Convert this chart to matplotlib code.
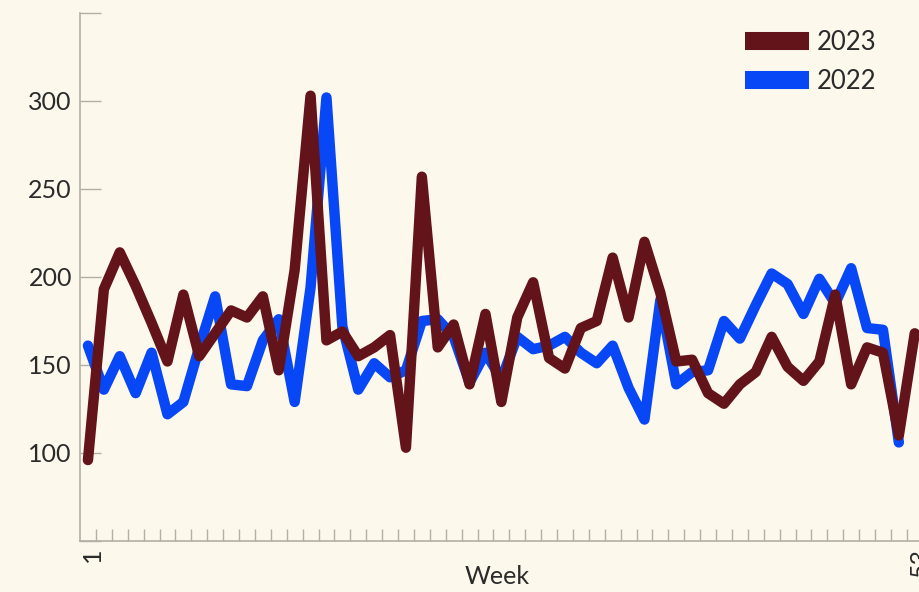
import matplotlib
matplotlib.use("Agg")
import matplotlib.pyplot as plt
import matplotlib.transforms as mtransforms
from matplotlib.lines import Line2D
import numpy as np

# weekly values
weeks_2023 = list(range(1, 54))
values_2023 = [96, 193, 214, 195, 174, 152, 190, 155, 168, 181,
               177, 189, 147, 204, 303, 164, 169, 155, 160, 167,
               103, 257, 160, 173, 139, 179, 129, 177, 197, 154,
               148, 171, 175, 211, 177, 220, 191, 152, 153, 134,
               128, 139, 146, 166, 149, 141, 152, 190, 139, 160,
               157, 110, 168]

weeks_2022 = list(range(1, 53))
values_2022 = [161, 136, 155, 134, 157, 122, 129, 160, 189, 139,
               138, 164, 176, 129, 194, 302, 172, 136, 151, 143,
               147, 175, 176, 166, 140, 157, 142, 166, 159, 161,
               166, 157, 151, 161, 137, 119, 187, 139, 146, 147,
               175, 165, 184, 202, 196, 179, 199, 185, 205, 171,
               170, 106]

y_ticks = [50, 100, 150, 200, 250, 300, 350]
y_labels = ["", "100", "150", "200", "250", "300", ""]

BG = "#fdf8ec"
RED = "#63131a"
BLUE = "#0747f5"
GREY = "#b3afa6"

plt.rcParams["font.family"] = ["Lato", "DejaVu Sans"]

fig = plt.figure(figsize=(9.19, 5.92), dpi=100, facecolor=BG)
ax = fig.add_axes([80 / 919, 51 / 592, 842.7 / 919, 528 / 592])
ax.set_facecolor(BG)

lw = 7.5
ax.plot(weeks_2022, values_2022, color=BLUE, lw=lw,
        solid_capstyle="round", solid_joinstyle="round", zorder=2)
ax.plot(weeks_2023, values_2023, color=RED, lw=lw,
        solid_capstyle="round", solid_joinstyle="round", zorder=3)

ax.set_xlim(0.5, 53.5)
ax.set_ylim(50, 350)

for s in ["top", "right"]:
    ax.spines[s].set_visible(False)
for s in ["left", "bottom"]:
    ax.spines[s].set_color(GREY)
    ax.spines[s].set_linewidth(1.2)

ax.set_yticks(y_ticks)
ax.set_yticklabels(y_labels)
ax.tick_params(axis="y", direction="in", length=15, width=1.0, color=GREY,
               pad=5.8, labelsize=18, labelcolor="#2b2b2b")

ax.set_xticks([1, 53])
ax.set_xticklabels(["1", "53"], rotation=90)
ax.set_xticks(np.arange(1.5, 53, 1.0), minor=True)
ax.tick_params(axis="x", which="major", length=0, pad=5,
               labelsize=18, labelcolor="#2b2b2b")
ax.tick_params(axis="x", which="minor", direction="in", length=8.6,
               width=1.0, color=GREY)
# nudge the rotated week labels a little to the right, as in the original
shift = mtransforms.ScaledTranslation(5 / 100, 0, fig.dpi_scale_trans)
for lab in ax.get_xticklabels():
    lab.set_transform(lab.get_transform() + shift)

ax.set_xlabel("Week", fontsize=18, color="#2b2b2b")
ax.xaxis.set_label_coords(0.495, -0.045)

handles = [Line2D([], [], color=RED, lw=13, solid_capstyle="butt"),
           Line2D([], [], color=BLUE, lw=13, solid_capstyle="butt")]
ax.legend(handles, ["2023", "2022"], loc="upper right",
          bbox_to_anchor=(887 / 919, 1 - 20 / 592),
          bbox_transform=fig.transFigure, frameon=False, fontsize=18.5,
          handlelength=2.5, handletextpad=0.3, labelspacing=0.55,
          borderaxespad=0, labelcolor="#2b2b2b")

fig.savefig("out.png", dpi=100, facecolor=BG)
